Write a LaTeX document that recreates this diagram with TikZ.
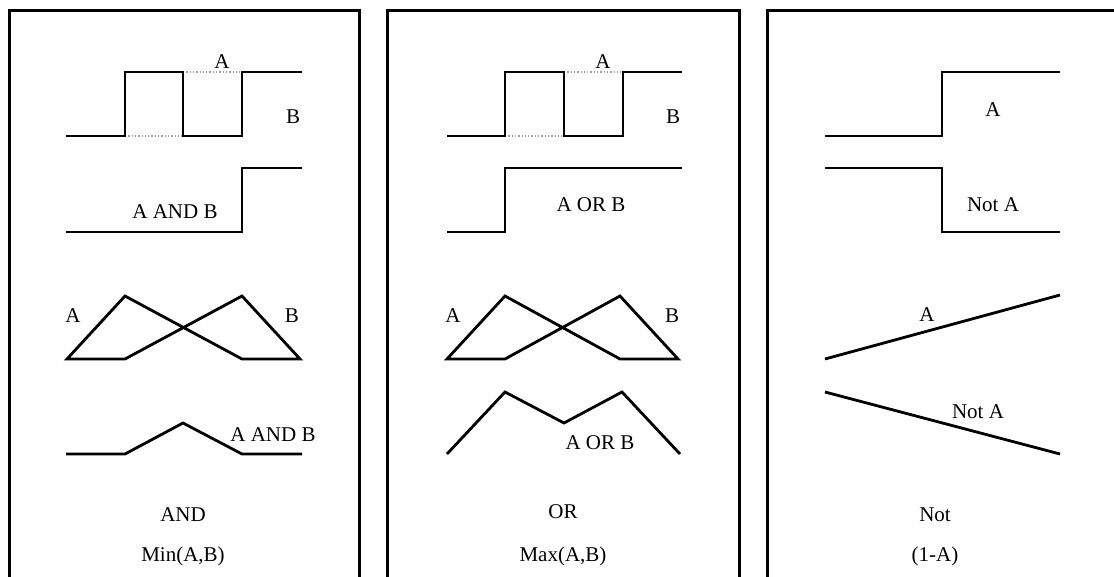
\documentclass[tikz,border=0pt]{standalone}
\usepackage{fontspec}
\setmainfont{Liberation Serif}
\begin{document}
\begin{tikzpicture}[x=1pt,y=-1pt,
  wave/.style={line width=2.8pt, line join=miter},
  frame/.style={line width=3pt},
  dots/.style={line width=1.3pt, gray!75, dotted},
  lbl/.style={font=\fontsize{21}{24}\selectfont, inner sep=0pt}]
\useasboundingbox (0,0) rectangle (1114,576);
\clip (0,0) rectangle (1114,576);
\fill[white] (0,0) rectangle (1114,576);
% frames
\draw[frame] (9,600) -- (9,10) -- (359,10) -- (359,600);
\draw[frame] (387,600) -- (387,10) -- (739,10) -- (739,600);
\draw[frame] (767,600) -- (767,10) -- (1130,10);

% ---------- Panel 1: AND ----------
\draw[dots] (183,72) -- (242,72);
\draw[dots] (125,136) -- (183,136);
\draw[wave] (66,136) -- (125,136) -- (125,72) -- (183,72) -- (183,136) -- (242,136) -- (242,72) -- (302,72);
\node[lbl] (p1a) at (222,62) {A};
\node[lbl] (p1b) at (293,117) {B};
\draw[wave] (66,232) -- (242,232) -- (242,168) -- (302,168);
\node[lbl] (p1ab) at (175,212) {A AND B};
\draw[wave] (67,359) -- (125,296) -- (242,359) -- (300,359) -- (242,296) -- (125,359) -- cycle;
\node[lbl] (p1ta) at (73,316) {A};
\node[lbl] (p1tb) at (292,316) {B};
\draw[wave] (66,454) -- (125,454) -- (183,423) -- (242,454) -- (302,454);
\node[lbl] (p1tab) at (273,435) {A AND B};
\node[lbl] (p1t) at (183,515) {AND};
\node[lbl] (p1f) at (183,556) {Min(A,B)};

% ---------- Panel 2: OR ----------
\draw[dots] (564,72) -- (623,72);
\draw[dots] (505,136) -- (564,136);
\draw[wave] (447,136) -- (505,136) -- (505,72) -- (564,72) -- (564,136) -- (623,136) -- (623,72) -- (682,72);
\node[lbl] (p2a) at (603,62) {A};
\node[lbl] (p2b) at (673,117) {B};
\draw[wave] (447,232) -- (505,232) -- (505,168) -- (682,168);
\node[lbl] (p2ab) at (591,205) {A OR B};
\draw[wave] (447,359) -- (505,296) -- (620,359) -- (678,359) -- (620,296) -- (505,359) -- cycle;
\node[lbl] (p2ta) at (453,316) {A};
\node[lbl] (p2tb) at (672,316) {B};
\draw[wave] (447,454) -- (505,392) -- (564,423) -- (622,392) -- (680,454);
\node[lbl] (p2tab) at (600,443) {A OR B};
\node[lbl] (p2t) at (563,512) {OR};
\node[lbl] (p2f) at (563,556) {Max(A,B)};

% ---------- Panel 3: NOT ----------
\draw[wave] (825,136) -- (942,136) -- (942,72) -- (1060,72);
\node[lbl] (p3a) at (993,110) {A};
\draw[wave] (825,168) -- (942,168) -- (942,232) -- (1060,232);
\node[lbl] (p3na) at (993,205) {Not A};
\draw[wave] (825,359) -- (1060,295);
\node[lbl] (p3la) at (927,315) {A};
\draw[wave] (825,392) -- (1060,454);
\node[lbl] (p3lna) at (978,412) {Not A};
\node[lbl] (p3t) at (935,515) {Not};
\node[lbl] (p3f) at (935,556) {(1-A)};
\end{tikzpicture}
\end{document}
